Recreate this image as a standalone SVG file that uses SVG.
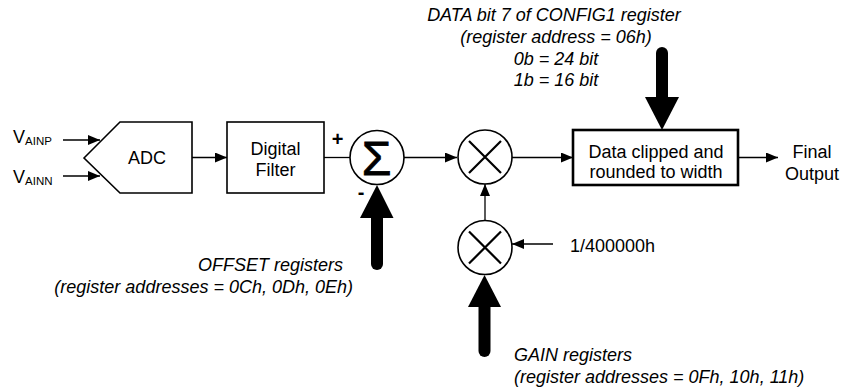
<svg xmlns="http://www.w3.org/2000/svg" width="844" height="391" viewBox="0 0 844 391">
<style>
text{font-family:"Liberation Sans",Arial,sans-serif;font-size:18px;fill:#000}
.it{font-style:italic}
.sub{font-size:11.5px}
.sign{font-size:20px;font-weight:bold}
.box{fill:#fff;stroke:#000;stroke-width:1.6}
.thick{stroke-width:2.6}
.ln{fill:none;stroke:#000;stroke-width:1.3}
.big{fill:none;stroke:#000;stroke-width:12;stroke-linecap:round}
.head{fill:#000}
</style>
<defs>
<marker id="ah" viewBox="0 0 12 10" refX="12" refY="5" markerWidth="12" markerHeight="10" markerUnits="userSpaceOnUse" orient="auto">
<path d="M0,0 L12,5 L0,10 Z" fill="#000"/>
</marker>
</defs>
<g id="connectors">
<line class="ln" x1="63" y1="140" x2="100" y2="140" marker-end="url(#ah)"/>
<line class="ln" x1="63" y1="176" x2="100" y2="176" marker-end="url(#ah)"/>
<line class="ln" x1="192" y1="157.5" x2="227" y2="157.5" marker-end="url(#ah)"/>
<line class="ln" x1="324" y1="157.5" x2="350" y2="157.5"/>
<line class="ln" x1="404" y1="157.5" x2="457" y2="157.5" marker-end="url(#ah)"/>
<line class="ln" x1="512" y1="157.5" x2="573" y2="157.5" marker-end="url(#ah)"/>
<line class="ln" x1="738" y1="157.5" x2="778" y2="157.5" marker-end="url(#ah)"/>
<line class="ln" x1="485" y1="220" x2="485" y2="184" marker-end="url(#ah)"/>
<line class="ln" x1="553" y1="244" x2="512" y2="244" marker-end="url(#ah)"/>
<line class="big" x1="377" y1="264" x2="377" y2="215"/>
<polygon class="head" points="360,218 393.5,218 377,185"/>
<line class="big" x1="662" y1="53" x2="662" y2="100"/>
<polygon class="head" points="645,97 679,97 662,130"/>
<line class="big" x1="484.5" y1="351" x2="484.5" y2="304"/>
<polygon class="head" points="468,307 501,307 484.5,275"/>
</g>
<g id="vainp">
<text x="13" y="143">V<tspan class="sub" dy="2">AINP</tspan></text>
</g>
<g id="vainn">
<text x="13" y="183">V<tspan class="sub" dy="2">AINN</tspan></text>
</g>
<g id="adc">
<polygon class="box" points="84,158 120,122 192,122 192,193 120,193"/>
<text x="147" y="164" text-anchor="middle">ADC</text>
</g>
<g id="filter">
<rect class="box" x="227" y="122" width="97" height="71"/>
<text x="275.5" y="155" text-anchor="middle">Digital</text>
<text x="275.5" y="176" text-anchor="middle">Filter</text>
</g>
<g id="sum">
<circle class="box" cx="377" cy="157.5" r="27"/>
<text x="376.5" y="174.5" text-anchor="middle" style="font-size:48px;stroke:#000;stroke-width:0.8">Σ</text>
<text class="sign" x="337.5" y="146" text-anchor="middle">+</text>
<text class="sign" x="361" y="199" text-anchor="middle">-</text>
</g>
<g id="mult1">
<circle class="box" cx="485" cy="157" r="27"/>
<path class="ln" d="M469,141 L501,173 M501,141 L469,173" style="stroke-width:2.2"/>
</g>
<g id="mult2">
<circle class="box" cx="485" cy="247.5" r="27"/>
<path class="ln" d="M469,231.5 L501,263.5 M501,231.5 L469,263.5" style="stroke-width:2.2"/>
</g>
<g id="clip">
<rect class="box thick" x="573" y="130" width="165" height="55"/>
<text x="656" y="158" text-anchor="middle">Data clipped and</text>
<text x="656" y="178" text-anchor="middle">rounded to width</text>
</g>
<g id="output">
<text x="812" y="158" text-anchor="middle">Final</text>
<text x="812" y="180" text-anchor="middle">Output</text>
</g>
<g id="config-label">
<text class="it" x="554" y="21" text-anchor="middle">DATA bit 7 of CONFIG1 register</text>
<text class="it" x="556" y="43" text-anchor="middle">(register address = 06h)</text>
<text class="it" x="556" y="65" text-anchor="middle">0b = 24 bit</text>
<text class="it" x="556" y="86" text-anchor="middle">1b = 16 bit</text>
</g>
<g id="offset-label">
<text class="it" x="343" y="271" text-anchor="end">OFFSET registers</text>
<text class="it" x="353" y="293" text-anchor="end">(register addresses = 0Ch, 0Dh, 0Eh)</text>
</g>
<g id="scale-label">
<text x="570" y="252">1/400000h</text>
</g>
<g id="gain-label">
<text class="it" x="514" y="361">GAIN registers</text>
<text class="it" x="514" y="383">(register addresses = 0Fh, 10h, 11h)</text>
</g>
</svg>
